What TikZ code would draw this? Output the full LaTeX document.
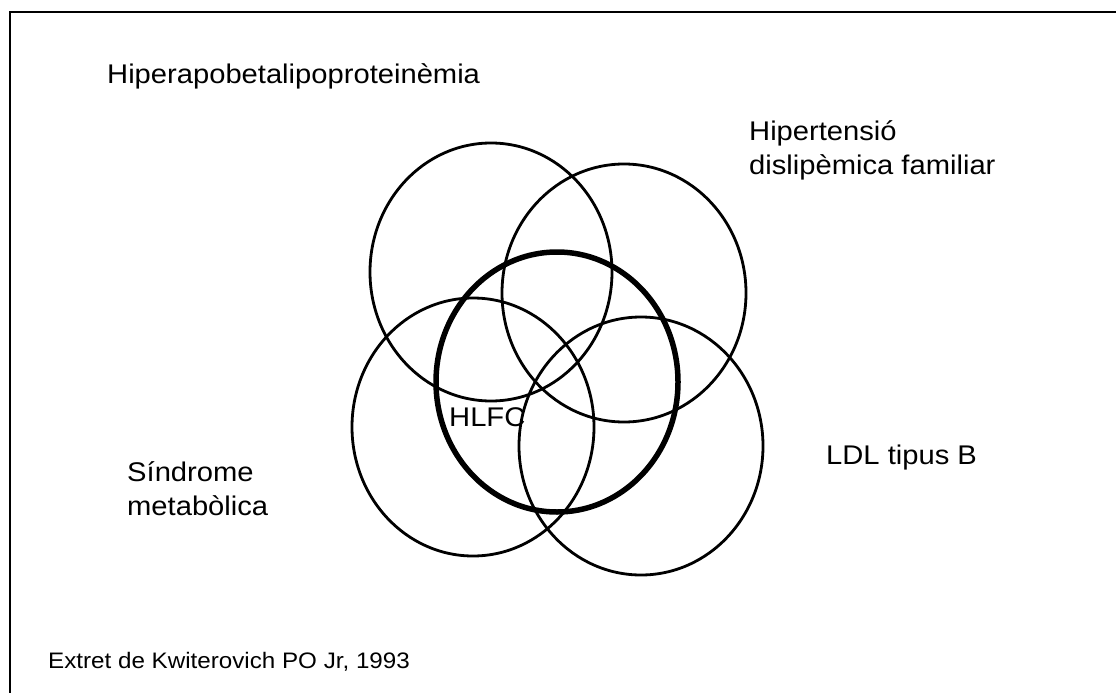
\documentclass[tikz,border=0pt]{standalone}
\usepackage{fontspec}
\setmainfont{Liberation Sans}[FakeStretch=1.08]
\begin{document}
\begin{tikzpicture}[x=1pt,y=-1pt,
  lbl/.style={inner sep=0pt, anchor=base west, align=left, font=\fontsize{27}{34}\selectfont},
  ring/.style={draw=black, line width=2.8pt},
  mainring/.style={draw=black, line width=5.5pt}]
\useasboundingbox (0,0) rectangle (1116,693);
% frame
\draw[line width=2.8pt] (10,693) -- (10,12) -- (1116,12);
% circles
\draw[ring] (491,272) ellipse [x radius=121, y radius=129];
\draw[ring] (624,293) ellipse [x radius=122, y radius=129];
\draw[ring] (473,427) ellipse [x radius=121, y radius=129];
\draw[ring] (641,446) ellipse [x radius=122, y radius=129];
\draw[mainring] (557,382) ellipse [x radius=121, y radius=130];
% labels
\node[lbl] (hab) at (107,83) {Hiperapobetalipoproteinèmia};
\node[lbl] (hdf) at (749,174) {Hipertensió\\dislipèmica familiar};
\node[lbl] (ldl) at (826,464) {LDL tipus B};
\node[lbl] (sm) at (127,515) {Síndrome\\metabòlica};
\node[lbl] (hlfc) at (449,426) {HLFC};
\node[lbl, font=\fontsize{22.4}{25}\selectfont] (src) at (48,668) {Extret de Kwiterovich PO Jr, 1993};
\end{tikzpicture}
\end{document}
